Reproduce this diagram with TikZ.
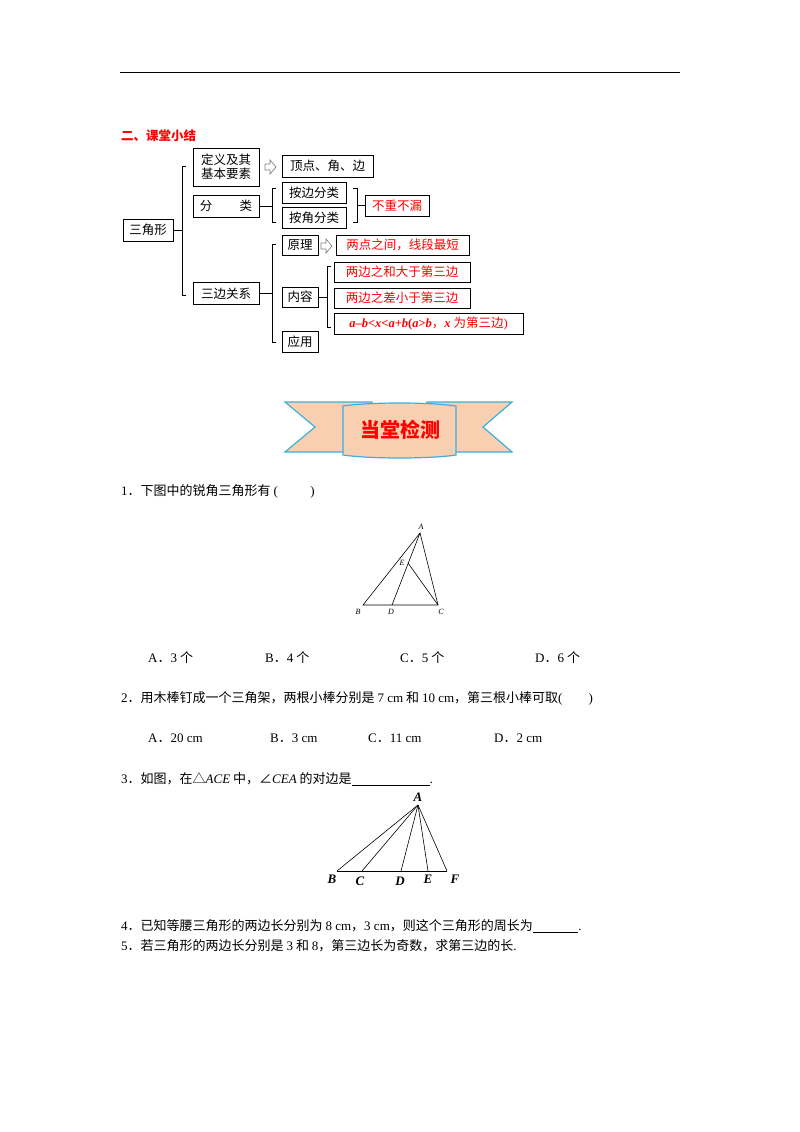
\documentclass[tikz,border=0pt]{standalone}
\usepackage{fontspec}
\setmainfont{Liberation Serif}
\newfontfamily\cjk{Noto Sans CJK SC}
\newcommand{\lt}[1]{{\rmfamily #1}}
\newcommand{\li}[1]{{\rmfamily\itshape #1}}
\newcommand{\lbi}[1]{{\rmfamily\bfseries\itshape #1}}
\begin{document}
\begin{tikzpicture}[x=1pt,y=-1pt,
  bx/.style={draw,line width=0.9pt,inner sep=0pt,font=\cjk\fontsize{12.5}{14}\selectfont},
  rbx/.style={bx,text=red},
  br/.style={line width=0.8pt},
  harrow/.style={draw=gray,line width=0.7pt,fill=white},
  body/.style={anchor=west,inner sep=0pt,font=\cjk\fontsize{13}{15}\selectfont},
  lbl/.style={inner sep=0pt,font=\fontsize{8}{9}\selectfont\itshape},
  blbl/.style={inner sep=0pt,font=\fontsize{13}{14}\selectfont\bfseries\itshape},
  seg/.style={line width=0.6pt}]
\useasboundingbox (0,0) rectangle (800,1132);
\fill[white] (0,0) rectangle (800,1132);
\draw[line width=0.8pt] (120,72) -- (680,72);
\node[body,text=red,font=\cjk\bfseries\fontsize{12.5}{14}\selectfont] (title) at (121,136) {二、课堂小结};
% boxes
\node[bx,minimum width=50,minimum height=22] (sjx) at (148,230) {三角形};
\node[bx,minimum width=66,minimum height=38,align=left] (dy) at (226,167) {定义及其\\基本要素};
\node[bx,minimum width=66,minimum height=22] (fl) at (226,206) {分\hspace{2.2em}类};
\node[bx,minimum width=66,minimum height=22] (sb) at (226,293.5) {三边关系};
\node[bx,minimum width=91,minimum height=22] (ddj) at (327.5,166) {顶点、角、边};
\node[bx,minimum width=64,minimum height=21] (abf) at (314,192.5) {按边分类};
\node[bx,minimum width=64,minimum height=21] (ajf) at (314,218) {按角分类};
\node[rbx,minimum width=64,minimum height=21] (bcb) at (397,205.5) {不重不漏};
\node[bx,minimum width=36,minimum height=20] (yl) at (300,245) {原理};
\node[rbx,minimum width=133,minimum height=20] (ld) at (402.5,245) {两点之间，线段最短};
\node[bx,minimum width=36,minimum height=20] (nr) at (300,297) {内容};
\node[rbx,minimum width=136,minimum height=20] (h1) at (402,272) {两边之和大于第三边};
\node[rbx,minimum width=136,minimum height=20] (h2) at (402,298) {两边之差小于第三边};
\node[rbx,minimum width=189,minimum height=21] (h3) at (428.5,323.5) {\lbi{a}\lt{\bfseries–}\lbi{b}\lt{\bfseries<}\lbi{x}\lt{\bfseries<}\lbi{a}\lt{\bfseries+}\lbi{b}\lt{\bfseries(}\lbi{a}\lt{\bfseries>}\lbi{b}，\lbi{x} 为第三边\lt{)}};
\node[bx,minimum width=36,minimum height=21] (yy) at (300,341.5) {应用};
% brackets
\draw[br] (sjx.east) -- (182,230);
\draw[br] (186,166) -- (182,166) -- (182,295) -- (186,295);
\draw[br] (fl.east) -- (272,206);
\draw[br] (276,188) -- (272,188) -- (272,222) -- (276,222);
\draw[br] (353,188) -- (357,188) -- (357,222) -- (353,222);
\draw[br] (357,205.5) -- (bcb.west);
\draw[br] (sb.east) -- (272,293.5);
\draw[br] (276,244) -- (272,244) -- (272,342) -- (276,342);
\draw[br] (nr.east) -- (327,297);
\draw[br] (331,266) -- (327,266) -- (327,327) -- (331,327);
% hollow arrows
\draw[harrow] (265,164) -- (270,164) -- (270,160) -- (276,167) -- (270,174) -- (270,170) -- (265,170) -- cycle;
\draw[harrow] (321,243) -- (326,243) -- (326,239) -- (332,246) -- (326,253) -- (326,249) -- (321,249) -- cycle;
% banner
\definecolor{peach}{HTML}{F8CFB0}\definecolor{rib}{HTML}{3BB0E0}
\draw[rib,fill=peach,line width=1.2pt] (285,402) -- (372,402) -- (372,450) -- (343,452) -- (285,452) -- (315,427) -- cycle;
\draw[rib,fill=peach,line width=1.2pt] (512,402) -- (427,402) -- (427,450) -- (456,452) -- (512,452) -- (483,427) -- cycle;
\draw[rib,fill=peach,line width=1.2pt] (343,406) .. controls (370,402) and (430,402) .. (456,406) -- (456,455) .. controls (430,459) and (370,459) .. (343,455) -- cycle;
\node[text=red,font=\cjk\bfseries\fontsize{20}{22}\selectfont] (bt) at (400,430) {当堂检测};
% Q1
\node[body] (q1) at (121,491) {\lt{1}．下图中的锐角三角形有 \lt{(\hspace{2.5em})}};
\coordinate (A1) at (420,533); \coordinate (B1) at (363,605); \coordinate (C1) at (438,605);
\coordinate (D1) at (392,605); \coordinate (E1) at (408,563);
\draw[seg] (A1) -- (B1) -- (C1) -- cycle; \draw[seg] (A1) -- (D1); \draw[seg] (E1) -- (C1);
\node[lbl] (la) at (421,527) {A}; \node[lbl] (lb) at (358,612) {B}; \node[lbl] (lc) at (441,612) {C};
\node[lbl] (ld1) at (391,612) {D}; \node[lbl] (le) at (402,563) {E};
\node[body] (o1a) at (148,658) {\lt{A}．\lt{3} 个}; \node[body] (o1b) at (265,658) {\lt{B}．\lt{4} 个};
\node[body] (o1c) at (400,658) {\lt{C}．\lt{5} 个}; \node[body] (o1d) at (535,658) {\lt{D}．\lt{6} 个};
% Q2
\node[body] (q2) at (121,698) {\lt{2}．用木棒钉成一个三角架，两根小棒分别是 \lt{7 cm} 和 \lt{10 cm}，第三根小棒可取\lt{(\hspace{2em})}};
\node[body] (o2a) at (148,738) {\lt{A}．\lt{20 cm}}; \node[body] (o2b) at (270,738) {\lt{B}．\lt{3 cm}};
\node[body] (o2c) at (368,738) {\lt{C}．\lt{11 cm}}; \node[body] (o2d) at (494,738) {\lt{D}．\lt{2 cm}};
% Q3
\node[body] (q3) at (121,779) {\lt{3}．如图，在△\li{ACE} 中，∠\li{CEA} 的对边是\lt{\underline{\hspace{6em}}.}};
\coordinate (A3) at (418,805); \coordinate (B3) at (337,871); \coordinate (C3) at (362,871);
\coordinate (D3) at (401,871); \coordinate (E3) at (428,871); \coordinate (F3) at (447,871);
\draw[seg] (B3) -- (F3);
\foreach \p in {B3,C3,D3,E3,F3} \draw[seg] (A3) -- (\p);
\node[blbl] (lA) at (418,797) {A}; \node[blbl] (lB) at (332,879) {B}; \node[blbl] (lC) at (360,881) {C};
\node[blbl] (lD) at (400,881) {D}; \node[blbl] (lE) at (428,879) {E}; \node[blbl] (lF) at (455,879) {F};
% Q4 Q5
\node[body] (q4) at (121,926) {\lt{4}．已知等腰三角形的两边长分别为 \lt{8 cm}，\lt{3 cm}，则这个三角形的周长为\lt{\underline{\hspace{3.5em}}.}};
\node[body] (q5) at (121,946) {\lt{5}．若三角形的两边长分别是 \lt{3} 和 \lt{8}，第三边长为奇数，求第三边的长\lt{.}};
\end{tikzpicture}
\end{document}
